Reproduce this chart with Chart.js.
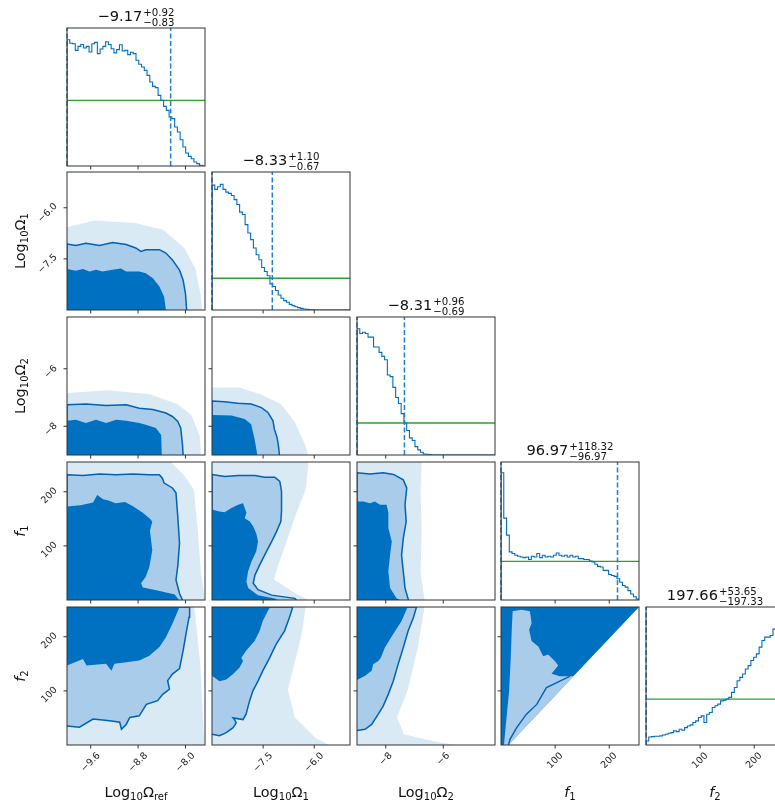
<!DOCTYPE html>
<html>
<head>
<meta charset="utf-8">
<script src="https://cdn.jsdelivr.net/npm/chart.js@4.4.0/dist/chart.umd.min.js"></script>
<style>
  body { margin: 0; background: #fff; }
  #fig { position: relative; width: 775px; height: 804px; overflow: hidden; font-family: "DejaVu Sans", sans-serif; color: #111; }
  #fig canvas { position: absolute; }
  .ttl { position: absolute; font-size: 14.6px; line-height: 1; white-space: nowrap; transform: translateX(-50%); }
  .ud { display: inline-block; vertical-align: -5px; font-size: 10.2px; line-height: 9.5px; margin-left: 1px; }
  .ud span { display: block; }
  .xl { position: absolute; font-size: 14.4px; line-height: 1; white-space: nowrap; transform: translateX(-50%); }
  .yl { position: absolute; font-size: 14.4px; line-height: 1; white-space: nowrap; transform: translate(-50%, -50%) rotate(-90deg); }
  sub { font-size: 0.7em; vertical-align: -0.3em; line-height: 0; }
  i { font-family: "DejaVu Sans"; font-style: oblique; }
</style>
</head>
<body>
<div id="fig"></div>
<script>
// parameters: Log10 Omega_ref, Log10 Omega_1, Log10 Omega_2, f1, f2
const axisNames = ['Log<sub>10</sub>Ω<sub>ref</sub>', 'Log<sub>10</sub>Ω<sub>1</sub>', 'Log<sub>10</sub>Ω<sub>2</sub>', '<i>f</i><sub>1</sub>', '<i>f</i><sub>2</sub>'];
const rangeLo = [-10.0, -9.0, -9.0, 0, 0];
const rangeHi = [-7.67, -4.95, -4.2, 255, 255];
const tickValues = [[-9.6, -8.8, -8.0], [-7.5, -6.0], [-8, -6], [100, 200], [100, 200]];
const tickLabels = [['−9.6', '−8.8', '−8.0'], ['−7.5', '−6.0'], ['−8', '−6'], ['100', '200'], ['100', '200']];

// 1D summaries (median, +err, -err)
const medians = [-9.17, -8.33, -8.31, 96.97, 197.66];
const errPlus = [0.92, 1.10, 0.96, 118.32, 53.65];
const errMinus = [0.83, 0.67, 0.69, 96.97, 197.33];
const priorLevel = [47.6, 23, 23.2, 28, 33.3];

// marginal histograms, 50 bins each, height in % of panel
const histRef = [91.5, 89, 88.6, 83.8, 86.7, 88, 85.5, 86.7, 82.6, 88.6, 89.6, 81.4, 84.8, 86.7, 90, 88, 85, 82, 84.3, 87.9,
  83.3, 83.8, 80.7, 82.4, 81.4, 76.6, 73.7, 71.7, 69.3, 65.7, 60.9, 57.7, 56.8, 51.2, 47.6, 43.2, 40.3, 35.5, 34.3, 28.3,
  24.6, 19, 13.8, 9.4, 7, 5.3, 2.9, 1.7, 0.5, 0];
const histO1 = [90.5, 87.4, 89.3, 91, 87.4, 85.4, 84.5, 83, 80, 76.5, 70.9, 69.2, 61.9, 55.8, 51, 44.9, 40, 36.4, 30.8, 27.9,
  24.8, 18.9, 17, 14.1, 10.9, 8.5, 6.8, 5.6, 4.1, 3.2, 2.4, 1.7, 1.2, 0.7, 0.5, 0.2, 0.1, 0, 0, 0,
  0, 0, 0, 0, 0, 0, 0, 0, 0, 0];
const histO2 = [91.5, 88, 89, 88, 85.4, 85.4, 78.3, 78.3, 74.4, 71.5, 69, 58, 56.8, 49, 41.7, 37.3, 30, 23.2, 17.8, 12.4,
  10.5, 6.1, 3.7, 2, 0.7, 0.5, 0.2, 0, 0, 0, 0, 0, 0, 0, 0, 0, 0, 0, 0, 0,
  0, 0, 0, 0, 0, 0, 0, 0, 0, 0];
const histF1 = [92.2, 59.3, 47, 34.9, 33.7, 32.4, 31.7, 31.2, 30.7, 31.2, 29.3, 31.7, 31.2, 33.7, 30.7, 32.4, 31.2, 31.7, 31.2, 32.4,
  34.1, 32.4, 31.7, 32.4, 31.2, 32.4, 31.2, 31.7, 30, 30, 29.3, 29.3, 28.3, 27.6, 25.9, 24.4, 23.9, 21.5, 21.5, 18.5,
  17.8, 17.1, 15.4, 12.9, 10.5, 9.3, 6.8, 4.4, 2.4, 0.7];
const histF2 = [2.9, 5.8, 6.1, 6.3, 6.3, 6.6, 7.3, 7.8, 8.5, 9, 10.2, 9.7, 11.4, 10.7, 12.6, 13.8, 14.6, 16.3, 17.5, 19.9,
  21.1, 16.3, 22.3, 23.5, 27.2, 28.4, 29.6, 32, 32.5, 33.3, 34.5, 38.1, 41.7, 46.6, 49, 51.5, 55.1, 57.5, 61.2, 63.6,
  66, 70.9, 75.7, 78.2, 78.2, 79.4, 84, 87, 91, 89];
const hists = [histRef, histO1, histO2, histF1, histF2];

// 2D credible regions: halo = sample cloud, light = outer level, dark = inner level
const halo10 = [[-10, -9], [-10, -6.57], [-9.53, -6.37], [-8.84, -6.45], [-8.37, -6.65], [-8.02, -7.18], [-7.83, -7.79], [-7.74, -8.6], [-7.72, -9]];
const light10 = [[-10, -9], [-10, -7.06], [-9.85, -7.11], [-9.68, -7.04], [-9.45, -7.11], [-9.23, -7.02], [-9.0, -7.08], [-8.84, -7.18], [-8.75, -7.28], [-8.67, -7.23], [-8.44, -7.23], [-8.33, -7.33], [-8.22, -7.53], [-8.10, -7.83], [-8.04, -8.12], [-8.0, -8.51], [-7.98, -9]];
const dark10 = [[-10, -9], [-10, -7.8], [-9.85, -7.85], [-9.73, -7.8], [-9.62, -7.87], [-9.51, -7.82], [-9.40, -7.87], [-9.23, -7.82], [-9.09, -7.78], [-9.0, -7.87], [-8.78, -7.87], [-8.67, -7.92], [-8.55, -8.07], [-8.44, -8.31], [-8.36, -8.61], [-8.33, -9]];

const halo20 = [[-10, -9], [-10, -6.84], [-9.3, -6.75], [-8.6, -6.89], [-8.14, -7.23], [-7.9, -7.61], [-7.76, -8.33], [-7.74, -9]];
const light20 = [[-10, -9], [-10, -7.25], [-9.68, -7.23], [-9.34, -7.28], [-9.0, -7.25], [-8.78, -7.37], [-8.55, -7.42], [-8.33, -7.54], [-8.22, -7.66], [-8.13, -7.83], [-8.08, -8.06], [-8.05, -8.64], [-8.04, -9]];
const dark20 = [[-10, -9], [-10, -7.81], [-9.85, -7.77], [-9.68, -7.89], [-9.51, -7.77], [-9.34, -7.89], [-9.17, -7.77], [-9.0, -7.81], [-8.78, -7.89], [-8.67, -7.95], [-8.5, -8.06], [-8.41, -8.3], [-8.4, -9]];

const halo30 = [[-10, 0], [-10, 255], [-8.25, 255], [-8.02, 230], [-7.86, 204], [-7.79, 128], [-7.74, 51], [-7.67, 0]];
const light30 = [[-10, 0], [-10, 231.5], [-9.73, 230], [-9.45, 233], [-9.17, 231.5], [-8.89, 233], [-8.61, 231.5], [-8.44, 231.5], [-8.39, 225], [-8.36, 216], [-8.22, 207], [-8.16, 198], [-8.13, 154], [-8.10, 105], [-8.13, 62], [-8.16, 37], [-8.10, 12], [-8.05, 0]];
const dark30 = [[-10, 0], [-10, 173], [-9.77, 175], [-9.56, 180], [-9.49, 194], [-9.39, 186], [-9.30, 184], [-9.18, 179], [-9.02, 181], [-8.88, 173], [-8.72, 161], [-8.60, 150], [-8.56, 145], [-8.60, 128], [-8.56, 92], [-8.61, 61], [-8.67, 43], [-8.75, 31], [-8.72, 23], [-8.49, 18], [-8.18, 10], [-8.11, 0]];

const halo40 = [[-10, 0], [-10, 255], [-7.85, 255], [-7.75, 150], [-7.68, 0]];
const light40 = [[-10, 35], [-9.79, 33], [-9.56, 48], [-9.28, 45], [-9.11, 42], [-9.08, 29], [-9.0, 38], [-8.94, 51], [-8.78, 54], [-8.66, 75], [-8.47, 82], [-8.38, 94], [-8.27, 103], [-8.30, 119], [-8.22, 131], [-8.10, 141], [-8.04, 174], [-7.99, 206], [-7.94, 236], [-7.93, 255], [-10, 255]];
const dark40 = [[-10, 147], [-9.73, 159], [-9.67, 147], [-9.34, 150], [-9.25, 137], [-9.2, 150], [-9.0, 153], [-8.78, 156], [-8.61, 165], [-8.44, 181], [-8.33, 199], [-8.22, 224], [-8.10, 255], [-10, 255]];

const halo21 = [[-9, -9], [-9, -6.65], [-8.19, -6.65], [-7.58, -6.89], [-6.98, -7.23], [-6.57, -7.85], [-6.29, -8.57], [-6.17, -9]];
const light21 = [[-9, -9], [-9, -7.12], [-8.63, -7.15], [-8.24, -7.2], [-7.85, -7.23], [-7.55, -7.35], [-7.36, -7.52], [-7.21, -7.81], [-7.17, -8.1], [-7.09, -8.39], [-7.05, -8.68], [-7.02, -9]];
const dark21 = [[-9, -9], [-9, -7.61], [-8.43, -7.63], [-8.04, -7.75], [-7.85, -7.93], [-7.75, -8.45], [-7.67, -9]];

const halo31 = [[-9, 0], [-9, 255], [-6.17, 255], [-6.25, 204], [-6.57, 153], [-6.77, 115], [-7.06, 64], [-7.18, 38], [-6.57, 13], [-6.17, 0]];
const light31 = [[-9, 0], [-9, 232], [-8.63, 228], [-8.23, 230], [-7.74, 230], [-7.45, 227], [-7.16, 227], [-7.01, 219], [-6.96, 201], [-6.96, 164], [-6.98, 145], [-7.11, 126], [-7.25, 108], [-7.4, 90], [-7.6, 65], [-7.74, 46], [-7.79, 31], [-7.65, 19], [-7.25, 9], [-6.57, 3], [-6.52, 0]];
const dark31 = [[-9, 0], [-9, 167], [-8.82, 164], [-8.63, 162], [-8.43, 170], [-8.23, 176], [-8.09, 179], [-8.04, 170], [-7.99, 161], [-8.04, 151], [-7.89, 145], [-7.79, 136], [-7.7, 123], [-7.65, 108], [-7.7, 90], [-7.84, 71], [-7.94, 53], [-7.99, 34], [-7.94, 22], [-7.65, 9], [-7.16, 3], [-7.06, 0]];

const halo32 = [[-9, 0], [-9, 255], [-6.75, 255], [-6.79, 204], [-6.75, 128], [-6.79, 51], [-6.65, 0]];
const light32 = [[-9, 0], [-9, 235], [-8.55, 233], [-8.09, 235], [-7.73, 232], [-7.39, 222], [-7.27, 207], [-7.33, 176], [-7.29, 145], [-7.39, 114], [-7.45, 83], [-7.39, 53], [-7.33, 22], [-7.21, 0]];
const dark32 = [[-9, 0], [-9, 182], [-8.78, 182], [-8.55, 179], [-8.38, 182], [-8.2, 176], [-7.97, 176], [-7.91, 161], [-7.91, 133], [-7.79, 108], [-7.85, 83], [-7.91, 53], [-7.85, 22], [-7.62, 3], [-7.5, 0]];

const halo41 = [[-9, 0], [-9, 255], [-6.25, 255], [-6.37, 204], [-6.57, 153], [-6.77, 102], [-6.57, 51], [-5.96, 13], [-5.56, 0]];
const light41 = [[-9, 20], [-8.78, 17], [-8.58, 23], [-8.38, 32], [-8.29, 41], [-8.34, 47], [-8.38, 50], [-8.09, 47], [-8.0, 57], [-7.9, 81], [-7.8, 100], [-7.65, 118], [-7.51, 137], [-7.31, 161], [-7.12, 186], [-6.87, 211], [-6.73, 235], [-6.63, 255], [-9, 255]];
const dark41 = [[-9, 128], [-8.78, 118], [-8.58, 121], [-8.38, 131], [-8.19, 143], [-8.09, 155], [-8.14, 161], [-8.0, 174], [-7.75, 192], [-7.6, 211], [-7.51, 229], [-7.36, 248], [-7.29, 255], [-9, 255]];

const halo42 = [[-9, 0], [-9, 255], [-6.65, 255], [-6.89, 179], [-7.23, 102], [-7.61, 51], [-7.37, 20], [-6.17, 5], [-5.5, 0]];
const light42 = [[-9, 27], [-8.72, 29], [-8.49, 38], [-8.26, 57], [-8.09, 72], [-7.91, 94], [-7.74, 118], [-7.57, 149], [-7.39, 180], [-7.22, 211], [-7.04, 235], [-6.93, 255], [-9, 255]];
const dark42 = [[-9, 120], [-8.72, 128], [-8.49, 137], [-8.44, 149], [-8.26, 155], [-8.17, 161], [-8.03, 180], [-7.74, 205], [-7.45, 229], [-7.24, 255], [-9, 255]];

const dark43 = [[0, 0], [13.5, 0], [255, 255], [0, 255]];
const light43 = [[5.5, 0], [9, 38], [15, 100], [18, 161], [20, 216], [21.5, 247], [38, 250], [53.5, 247], [56.5, 225], [52, 213], [56.5, 192], [69, 182], [78, 164], [87, 167], [99.5, 155], [105.7, 147], [93.4, 131.5], [108.8, 127], [134, 127], [14, 0]];
const contour43 = [[127, 127], [84, 106], [66, 75], [47, 57], [29, 32], [16.6, 10.4], [14, 0]];

const regions = {
  '1,0': [halo10, light10, dark10], '2,0': [halo20, light20, dark20], '3,0': [halo30, light30, dark30], '4,0': [halo40, light40, dark40],
  '2,1': [halo21, light21, dark21], '3,1': [halo31, light31, dark31], '4,1': [halo41, light41, dark41],
  '3,2': [halo32, light32, dark32], '4,2': [halo42, light42, dark42]
};

// layout
const SIZE = 138;
const colLeft = [67, 212, 357, 501, 646];
const rowTop = [28, 172, 317, 462, 607];
const PL = 62, PR = 4, PT = 4, PB = 48;

const DARK = 'rgb(0,112,192)';
const LIGHT = 'rgb(168,204,234)';
const LINE = 'rgb(0,98,178)';
const HALO = 'rgba(0,114,189,0.15)';
const HIST = 'rgb(0,110,195)';
const GREEN = 'rgb(44,160,44)';

const fig = document.getElementById('fig');
const toXY = arr => arr.map(p => ({x: p[0], y: p[1]}));
const fmt = v => v.toFixed(2).replace('-', '−');

function poly(pts, color, border) {
	return {
		data: toXY(pts),
		showLine: true,
		fill: 'shape',
		backgroundColor: color,
		borderColor: border || 'rgba(0,0,0,0)',
		borderWidth: border ? 1.5 : 0,
		pointRadius: 0,
		tension: 0,
		clip: 0
	};
}

function stepPoints(vals, a, b) {
	const w = (b - a) / vals.length;
	const pts = [{x: a, y: 0}];
	vals.forEach((v, i) => pts.push({x: a + i * w, y: v}));
	pts.push({x: b, y: vals[vals.length - 1]});
	pts.push({x: b, y: 0});
	return pts;
}

function frame(r, c) {
	return {
		id: 'frame',
		afterDatasetsDraw(chart) {
			const ctx = chart.ctx, a = chart.chartArea;
			const sx = chart.scales.x, sy = chart.scales.y;
			ctx.save();
			ctx.strokeStyle = '#333';
			ctx.lineWidth = 1;
			ctx.strokeRect(a.left, a.top, a.right - a.left, a.bottom - a.top);
			ctx.font = '9.5px "DejaVu Sans"';
			ctx.fillStyle = '#222';
			ctx.textAlign = 'center';
			ctx.textBaseline = 'middle';
			tickValues[c].forEach((t, i) => {
				const px = sx.getPixelForValue(t);
				ctx.beginPath(); ctx.moveTo(px, a.bottom); ctx.lineTo(px, a.bottom + 3.5); ctx.stroke();
				if (r === 4) {
					const w = ctx.measureText(tickLabels[c][i]).width;
					const d = (w + 9) * 0.3536;
					ctx.save();
					ctx.translate(px, a.bottom + 6 + d);
					ctx.rotate(-Math.PI / 4);
					ctx.fillText(tickLabels[c][i], 0, 0);
					ctx.restore();
				}
			});
			if (r > c) {
				tickValues[r].forEach((t, i) => {
					const py = sy.getPixelForValue(t);
					ctx.beginPath(); ctx.moveTo(a.left, py); ctx.lineTo(a.left - 3.5, py); ctx.stroke();
					if (c === 0) {
						const w = ctx.measureText(tickLabels[r][i]).width;
						const d = (w + 9) * 0.3536;
						ctx.save();
						ctx.translate(a.left - 8 - d, py + w * 0.22);
						ctx.rotate(-Math.PI / 4);
						ctx.fillText(tickLabels[r][i], 0, 0);
						ctx.restore();
					}
				});
			}
			ctx.restore();
		}
	};
}

function makePanel(r, c) {
	const cv = document.createElement('canvas');
	cv.width = SIZE + PL + PR;
	cv.height = SIZE + PT + PB;
	cv.style.left = (colLeft[c] - PL) + 'px';
	cv.style.top = (rowTop[r] - PT) + 'px';
	fig.appendChild(cv);

	// listed bottom layer first; reversed below because Chart.js paints dataset 0 last
	let datasets = [];
	let yMin, yMax;
	if (r === c) {
		yMin = 0; yMax = 100;
		const lo = rangeLo[c], hi = rangeHi[c];
		const q16 = medians[c] - errMinus[c], q84 = medians[c] + errPlus[c];
		datasets.push({data: [{x: lo, y: priorLevel[c]}, {x: hi, y: priorLevel[c]}], showLine: true, borderColor: GREEN, borderWidth: 1.3, pointRadius: 0});
		datasets.push({data: stepPoints(hists[c], lo, hi), showLine: true, stepped: true, borderColor: HIST, borderWidth: 1.1, pointRadius: 0, fill: false});
		[q16, q84].forEach(q => datasets.push({data: [{x: q, y: 0}, {x: q, y: 100}], showLine: true, borderColor: 'rgb(30,128,208)', borderWidth: 1.5, borderDash: [5, 2.5], pointRadius: 0, clip: 1}));
	} else if (r === 4 && c === 3) {
		yMin = rangeLo[r]; yMax = rangeHi[r];
		datasets.push(poly(dark43, DARK));
		datasets.push(poly(light43, LIGHT));
		datasets.push({data: toXY(contour43), showLine: true, borderColor: LINE, borderWidth: 1.4, pointRadius: 0, fill: false});
	} else {
		yMin = rangeLo[r]; yMax = rangeHi[r];
		const reg = regions[r + ',' + c];
		datasets.push(poly(reg[0], HALO));
		datasets.push(poly(reg[1], LIGHT, LINE));
		datasets.push(poly(reg[2], DARK));
	}
	datasets.reverse();

	new Chart(cv, {
		type: 'scatter',
		data: {datasets: datasets},
		options: {
			responsive: false,
			animation: false,
			events: [],
			layout: {padding: {left: PL, right: PR, top: PT, bottom: PB}},
			plugins: {legend: {display: false}, tooltip: {enabled: false}},
			scales: {
				x: {type: 'linear', display: false, min: rangeLo[c], max: rangeHi[c]},
				y: {type: 'linear', display: false, min: yMin, max: yMax}
			}
		},
		plugins: [frame(r, c)]
	});
}

for (let r = 0; r < 5; r++) {
	for (let c = 0; c <= r; c++) makePanel(r, c);
}

// titles above the diagonal
for (let i = 0; i < 5; i++) {
	const d = document.createElement('div');
	d.className = 'ttl';
	d.style.left = (colLeft[i] + SIZE / 2) + 'px';
	d.style.top = (rowTop[i] - 20) + 'px';
	d.innerHTML = fmt(medians[i]) + '<span class="ud"><span>+' + errPlus[i].toFixed(2) + '</span><span>−' + errMinus[i].toFixed(2) + '</span></span>';
	fig.appendChild(d);
}

// axis labels
for (let i = 0; i < 5; i++) {
	const d = document.createElement('div');
	d.className = 'xl';
	d.style.left = (colLeft[i] + SIZE / 2) + 'px';
	d.style.top = '785px';
	d.innerHTML = axisNames[i];
	fig.appendChild(d);
}
for (let i = 1; i < 5; i++) {
	const d = document.createElement('div');
	d.className = 'yl';
	d.style.left = '20px';
	d.style.top = (rowTop[i] + SIZE / 2) + 'px';
	d.innerHTML = axisNames[i];
	fig.appendChild(d);
}
</script>
</body>
</html>
